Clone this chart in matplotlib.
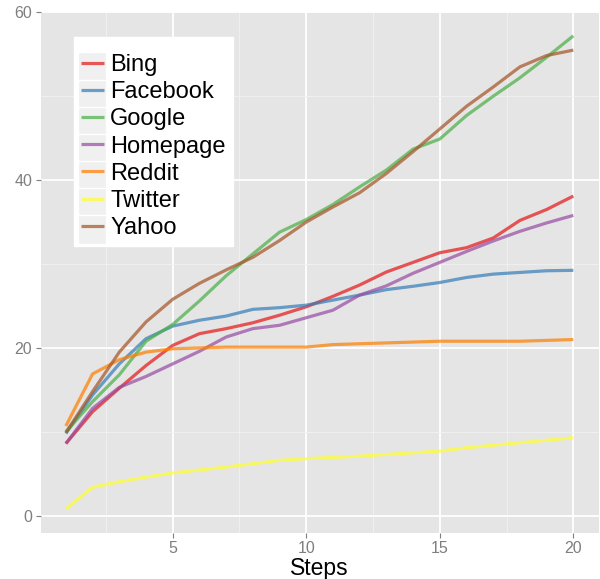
import numpy as np
import matplotlib
matplotlib.use("Agg")
import matplotlib.pyplot as plt
from matplotlib.legend_handler import HandlerLine2D
from matplotlib.patches import Rectangle

plt.rcParams["font.family"] = ["Liberation Sans", "DejaVu Sans"]

steps = np.arange(1, 21)
bing = [8.6, 12.4, 15.2, 17.9, 20.3, 21.7, 22.3, 23.0, 23.9, 24.9,
        26.15, 27.5, 29.05, 30.2, 31.35, 31.95, 33.1, 35.2, 36.5, 38.1]
facebook = [9.8, 14.4, 18.1, 21.1, 22.6, 23.3, 23.8, 24.6, 24.8, 25.1,
            25.7, 26.3, 26.95, 27.35, 27.8, 28.4, 28.8, 29.0, 29.2, 29.25]
google = [10.0, 13.6, 16.8, 20.8, 22.8, 25.6, 28.6, 31.2, 33.8, 35.3,
          37.1, 39.2, 41.2, 43.7, 44.9, 47.7, 50.0, 52.2, 54.65, 57.2]
homepage = [8.6, 12.8, 15.3, 16.6, 18.1, 19.6, 21.3, 22.3, 22.7, 23.6,
            24.5, 26.3, 27.4, 28.9, 30.2, 31.5, 32.75, 33.9, 34.9, 35.8]
reddit = [10.7, 16.9, 18.6, 19.5, 19.9, 20.0, 20.1, 20.1, 20.1, 20.1,
          20.4, 20.5, 20.6, 20.7, 20.8, 20.8, 20.8, 20.8, 20.9, 21.0]
twitter = [0.8, 3.4, 4.05, 4.6, 5.1, 5.45, 5.8, 6.2, 6.6, 6.8,
           6.95, 7.1, 7.3, 7.5, 7.7, 8.1, 8.4, 8.7, 9.0, 9.3]
yahoo = [9.9, 14.8, 19.5, 23.1, 25.8, 27.7, 29.3, 30.8, 32.8, 35.0,
         36.8, 38.5, 40.8, 43.4, 46.1, 48.8, 51.1, 53.5, 54.85, 55.5]

series = {
    "Bing": (bing, "#E41A1C"),
    "Facebook": (facebook, "#377EB8"),
    "Google": (google, "#4DAF4A"),
    "Homepage": (homepage, "#984EA3"),
    "Reddit": (reddit, "#FF7F00"),
    "Twitter": (twitter, "#FFFF33"),
    "Yahoo": (yahoo, "#A65628"),
}


class KeyHandler(HandlerLine2D):
    # ggplot-style grey key background behind each legend line
    def create_artists(self, legend, orig_handle, xdescent, ydescent,
                       width, height, fontsize, trans):
        pad = 2.0
        bg = Rectangle((-xdescent - pad, -ydescent - 0.4 * fontsize),
                       width + 2 * pad, fontsize * 1.19,
                       facecolor="#F0F0F0", edgecolor="white", lw=1.0,
                       transform=trans)
        arts = super().create_artists(legend, orig_handle, xdescent, ydescent,
                                      width, height, fontsize, trans)
        return [bg] + arts


fig = plt.figure(figsize=(6.0, 5.79), dpi=100)
ax = fig.add_axes([0.0675, 0.0803, 0.9303, 0.8998])
ax.set_facecolor("#E5E5E5")

for name, (vals, col) in series.items():
    ax.plot(steps, vals, color=col, lw=2.3, alpha=0.72, label=name,
            solid_capstyle="butt")

ax.set_xlim(0.05, 20.95)
ax.set_ylim(-2.0, 60.1)
ax.set_xticks([5, 10, 15, 20])
ax.set_yticks([0, 20, 40, 60])
ax.set_xticks([2.5, 7.5, 12.5, 17.5], minor=True)
ax.set_yticks([10, 30, 50], minor=True)
ax.grid(True, which="major", color="white", lw=1.3)
ax.grid(True, which="minor", color="#F2F2F2", lw=0.6)
ax.set_axisbelow(True)
for s in ax.spines.values():
    s.set_visible(False)
ax.tick_params(which="major", length=3.6, width=0.8, color="#7F7F7F",
               labelcolor="#7F7F7F", labelsize=11.5, pad=2.5)
ax.tick_params(which="minor", length=0)

ax.set_xlabel("Steps", fontsize=16.5, color="black", labelpad=1)

leg = ax.legend(handler_map={plt.Line2D: KeyHandler()},
                loc="upper left", bbox_to_anchor=(74 / 600, 1 - 36.7 / 579),
                bbox_transform=fig.transFigure, borderaxespad=0,
                fontsize=17, frameon=True, fancybox=False,
                title=" ", title_fontsize=4,
                handlelength=0.95, handletextpad=0.28, borderpad=0.3,
                labelspacing=0.22)
leg.get_frame().set_facecolor("white")
leg.get_frame().set_edgecolor("white")
leg.get_frame().set_alpha(1.0)
for ln in leg.get_lines():
    ln.set_linewidth(5.0)
    ln.set_alpha(0.72)

fig.savefig("out.png", dpi=100, facecolor="white")
